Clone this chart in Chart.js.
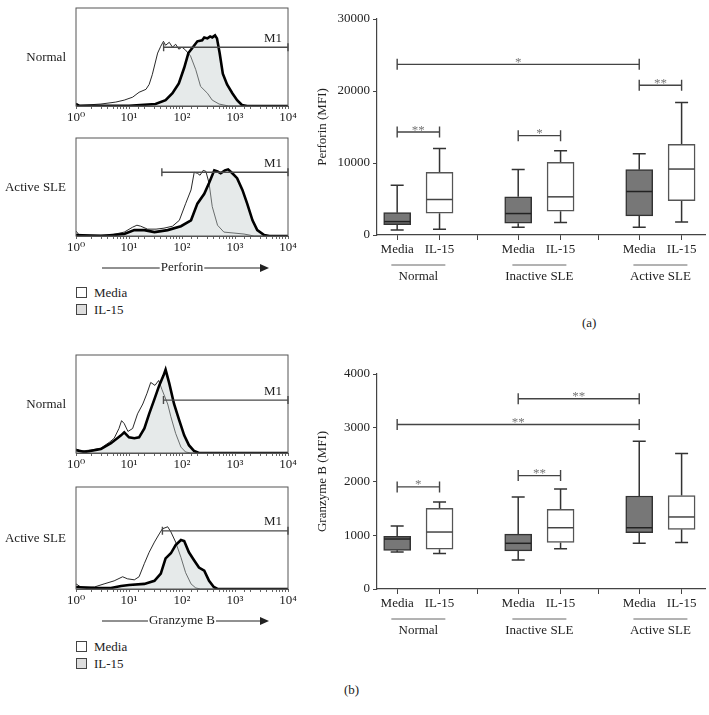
<!DOCTYPE html>
<html>
<head>
<meta charset="utf-8">
<script src="https://cdn.jsdelivr.net/npm/chart.js@4.4.1/dist/chart.umd.min.js"></script>
<style>
  body { margin: 0; background: #fff; }
  #fig { position: relative; width: 709px; height: 715px; font-family: "Liberation Serif", "DejaVu Serif", serif; color: #222; }
  .p { position: absolute; }
  .key { position: absolute; left: 76px; font-size: 13px; line-height: 16px; white-space: nowrap; }
  .key span { display: inline-block; width: 9px; height: 9px; border: 1px solid #444; margin-right: 7px; vertical-align: -1px; }
  .tag { position: absolute; font-size: 13px; }
</style>
</head>
<body>
<div id="fig">
  <canvas class="p" id="perfNormal" width="300" height="125" style="left:0;top:0"></canvas>
  <canvas class="p" id="perfActive" width="300" height="160" style="left:0;top:125px"></canvas>
  <canvas class="p" id="perfBox" width="409" height="300" style="left:300px;top:0"></canvas>
  <div class="key" style="top:285px"><span style="background:#fff"></span>Media</div>
  <div class="key" style="top:302px"><span style="background:#ddd"></span>IL-15</div>
  <div class="tag" style="left:582px;top:315px">(a)</div>

  <canvas class="p" id="granzNormal" width="300" height="130" style="left:0;top:345px"></canvas>
  <canvas class="p" id="granzActive" width="300" height="160" style="left:0;top:475px"></canvas>
  <canvas class="p" id="granzBox" width="409" height="300" style="left:300px;top:350px"></canvas>
  <div class="key" style="top:639px"><span style="background:#fff"></span>Media</div>
  <div class="key" style="top:656px"><span style="background:#ddd"></span>IL-15</div>
  <div class="tag" style="left:344px;top:682px">(b)</div>
</div>
<script>
// histogram tick labels (log axis)
const histTickValues = [1, 10, 100, 1000, 10000];
const histTickLabels = ["10⁰", "10¹", "10²", "10³", "10⁴"];

// flow histograms, [intensity, % of panel height]
const perfNormalMedia = [[1,3],[1.15,0.5],[2.95,2],[5.62,4],[8.13,6],[11.7,9],[15.5,14],[20.9,17],[24,22],[27.5,32],[34.7,54],[39.8,61],[44.7,66],[49,62],[57.5,65],[66.1,60],[75.9,63],[87.1,58],[100,60],[117,57],[145,51],[182,37],[224,20],[302,13],[372,6],[501,2],[759,0],[10000,0]];
const perfNormalIL15 = [[1,2],[1.15,0.3],[10,0.3],[31.6,2],[49,6],[66.1,13],[87.1,23],[110,39],[132,54],[155,59],[195,66],[240,67],[263,70],[302,69],[340,71],[372,70],[420,72],[457,69],[513,54],[589,33],[708,22],[891,13],[1096,6],[1349,1],[1698,0],[10000,0]];
const perfActiveMedia = [[1,5],[1.15,1],[4.57,1],[8.13,4],[11.7,9],[14.1,11],[16.6,10],[22.4,7],[32.4,7],[45.7,8],[66.1,10],[89.1,16],[117,33],[148,47],[170,65],[195,64],[219,62],[251,67],[282,66],[324,54],[372,30],[468,11],[617,4],[955,3],[1479,2],[2291,0],[10000,0]];
const perfActiveIL15 = [[1,1],[2.95,0],[8.13,2],[12.6,6],[19.5,6],[30.2,4],[53.7,6],[95.5,10],[148,16],[195,33],[263,43],[324,54],[407,67],[468,66],[537,64],[646,67],[741,68],[891,64],[1096,59],[1380,47],[1698,33],[2138,16],[2630,6],[3548,1],[4467,0],[10000,0]];
const granzNormalMedia = [[1,4],[1.23,2],[1.91,3],[2.95,5],[4.27,11],[5.25,15],[6.46,25],[7.24,33],[8.13,30],[9.55,22],[11.7,25],[14.5,40],[18.2,50],[21.9,61],[25.7,72],[30.9,69],[36.3,74],[41.7,65],[53.7,50],[61.7,37],[75.9,20],[95.5,6],[117,1],[148,0],[10000,0]];
const granzNormalIL15 = [[1,3],[1.45,1],[2.95,4],[4.57,10],[7.08,18],[8.13,21],[10,16],[12.6,15],[15.5,16],[19.5,25],[24,40],[30.2,55],[37.2,69],[44.7,79],[49,85],[57.5,71],[70.8,50],[89.1,33],[110,18],[135,8],[170,2],[209,0],[10000,0]];
const granzActiveMedia = [[1,5],[1.23,2],[2.24,2],[3.39,5],[5.25,8],[7.59,12],[9.33,10],[12.6,9],[15.5,12],[19.5,25],[24,36],[30.2,46],[37.2,54],[42.7,59],[53.7,61],[61.7,56],[75.9,46],[95.5,31],[117,16],[148,5],[182,1],[224,0],[10000,0]];
const granzActiveIL15 = [[1,2],[1.91,1],[4.57,1],[7.08,3],[10,4],[19.5,5],[30.2,8],[39.8,15],[49,30],[61.7,35],[75.9,43],[95.5,48],[110,47],[135,36],[170,28],[209,21],[263,18],[324,8],[398,2],[468,0],[10000,0]];

// M1 gates: [start intensity, level %]
const perfNormalGate = [45, 60];
const perfActiveGate = [41.7, 65];
const granzNormalGate = [44.7, 54];
const granzActiveGate = [42.7, 57];

// box plots
const groups = ["Normal", "Inactive SLE", "Active SLE"];
const treatments = ["Media", "IL-15"];
// [min, q1, median, q3, max] per group
const perfMedia = [[700,1440,1860,3100,6900],[1070,1630,2980,5300,9100],[1070,2650,6040,9070,11300]];
const perfIL15 = [[790,3020,4930,8700,12000],[1720,3300,5300,10100,11700],[1800,4780,9160,12600,18400]];
const granzMedia = [[690,720,930,980,1170],[540,710,850,1020,1710],[850,1050,1140,1730,2750]];
const granzIL15 = [[660,740,1060,1500,1620],[750,865,1140,1480,1860],[865,1110,1340,1740,2520]];
// significance: [box a, box b, value, label]  (box = group*2 + treatment)
const perfSig = [[0,4,23700,"*"],[4,5,20800,"**"],[0,1,14300,"**"],[2,3,13800,"*"]];
const granzSig = [[2,4,3540,"**"],[0,4,3060,"**"],[0,1,1900,"*"],[2,3,2110,"**"]];

const FONT = '"Liberation Serif", "DejaVu Serif", serif';
const tickFont = { family: FONT, size: 13 };
Chart.defaults.font.family = FONT;
Chart.defaults.font.size = 13;
Chart.defaults.color = "#222";

function histPlugin(row, gate, caption) {
  return {
    id: "histExtras",
    afterDatasetsDraw(chart) {
      const { ctx, chartArea: a, scales: { x, y } } = chart;
      ctx.save();
      ctx.strokeStyle = "#555";
      ctx.lineWidth = 1;
      ctx.strokeRect(a.left, a.top, a.width, a.height);

      // M1 gate
      const gy = y.getPixelForValue(gate[1]);
      const gx0 = x.getPixelForValue(gate[0]);
      const gx1 = x.getPixelForValue(10000);
      ctx.strokeStyle = "#4a4a4a";
      ctx.lineWidth = 1.4;
      ctx.beginPath();
      ctx.moveTo(gx0, gy); ctx.lineTo(gx1, gy);
      ctx.moveTo(gx0, gy - 4); ctx.lineTo(gx0, gy + 4);
      ctx.moveTo(gx1, gy - 4); ctx.lineTo(gx1, gy + 4);
      ctx.stroke();

      ctx.fillStyle = "#222";
      ctx.font = "13px " + FONT;
      ctx.textAlign = "center";
      ctx.textBaseline = "middle";
      ctx.fillText("M1", a.right - 15, gy - 9);

      ctx.textAlign = "right";
      ctx.fillText(row, a.left - 10, (a.top + a.bottom) / 2 + 1);

      if (caption) {
        const cy = a.bottom + 32;
        const cx = (a.left + a.right) / 2;
        ctx.textAlign = "center";
        ctx.fillText(caption, cx, cy);
        const w = ctx.measureText(caption).width;
        ctx.strokeStyle = "#222";
        ctx.lineWidth = 1;
        ctx.beginPath();
        ctx.moveTo(a.left + 26, cy); ctx.lineTo(cx - w / 2 - 1, cy);
        ctx.moveTo(cx + w / 2 + 1, cy); ctx.lineTo(a.left + 184, cy);
        ctx.stroke();
        ctx.fillStyle = "#222";
        ctx.beginPath();
        ctx.moveTo(a.left + 184, cy - 4);
        ctx.lineTo(a.left + 193, cy);
        ctx.lineTo(a.left + 184, cy + 4);
        ctx.closePath();
        ctx.fill();
      }
      ctx.restore();
    }
  };
}

function histChart(id, media, il15, gate, row, caption, pad) {
  return new Chart(document.getElementById(id), {
    type: "line",
    data: {
      datasets: [
        { label: "IL-15", data: il15, borderColor: "#000", borderWidth: 2.6, backgroundColor: "rgba(196,204,204,0.42)", fill: "origin" },
        { label: "Media", data: media, borderColor: "#111", borderWidth: 0.9, fill: false }
      ]
    },
    options: {
      responsive: false,
      animation: false,
      devicePixelRatio: 1,
      layout: { padding: pad },
      elements: { point: { radius: 0 }, line: { tension: 0 } },
      plugins: { legend: { display: false }, tooltip: { enabled: false } },
      scales: {
        x: {
          type: "logarithmic", min: 1, max: 10000,
          afterFit: s => { s.height = 19; },
          grid: { display: true, drawOnChartArea: false, tickLength: 3, color: "#666" },
          border: { color: "#555" },
          ticks: {
            autoSkip: false, maxRotation: 0, padding: 1, color: "#222", font: tickFont,
            callback: v => { const i = histTickValues.indexOf(v); return i < 0 ? "" : histTickLabels[i]; }
          }
        },
        y: { display: false, min: 0, max: 100 }
      }
    },
    plugins: [histPlugin(row, gate, caption)]
  });
}

histChart("perfNormal", perfNormalMedia, perfNormalIL15, perfNormalGate, "Normal", null, { left: 76, right: 12, top: 8, bottom: 0 });
histChart("perfActive", perfActiveMedia, perfActiveIL15, perfActiveGate, "Active SLE", "Perforin", { left: 76, right: 12, top: 13, bottom: 30 });
histChart("granzNormal", granzNormalMedia, granzNormalIL15, granzNormalGate, "Normal", null, { left: 76, right: 12, top: 10, bottom: 3 });
histChart("granzActive", granzActiveMedia, granzActiveIL15, granzActiveGate, "Active SLE", "Granzyme B", { left: 76, right: 12, top: 12, bottom: 27 });

const pos = (g, t) => g * 3 + 0.5 + t * 1.05;
const boxPositions = [];
groups.forEach((_, g) => treatments.forEach((_, t) => boxPositions.push(pos(g, t))));
const tickPositions = boxPositions.concat([2.5, 5.5]).sort((a, b) => a - b);

function boxPlugin(media, il15, sig) {
  const stats = [];
  groups.forEach((_, g) => { stats.push(media[g]); stats.push(il15[g]); });
  return {
    id: "boxExtras",
    beforeDatasetsDraw(chart) {
      const { ctx, scales: { x, y } } = chart;
      ctx.save();
      ctx.strokeStyle = "#333";
      ctx.lineWidth = 1.5;
      stats.forEach((s, i) => {
        const px = x.getPixelForValue(boxPositions[i]);
        ctx.beginPath();
        ctx.moveTo(px, y.getPixelForValue(s[0])); ctx.lineTo(px, y.getPixelForValue(s[1]));
        ctx.moveTo(px, y.getPixelForValue(s[3])); ctx.lineTo(px, y.getPixelForValue(s[4]));
        ctx.moveTo(px - 6.5, y.getPixelForValue(s[0])); ctx.lineTo(px + 6.5, y.getPixelForValue(s[0]));
        ctx.moveTo(px - 6.5, y.getPixelForValue(s[4])); ctx.lineTo(px + 6.5, y.getPixelForValue(s[4]));
        ctx.stroke();
      });
      ctx.restore();
    },
    afterDatasetsDraw(chart) {
      const { ctx, chartArea: a, scales: { x, y } } = chart;
      ctx.save();
      ctx.lineWidth = 1.5;
      stats.forEach((s, i) => {
        const px = x.getPixelForValue(boxPositions[i]);
        const py = y.getPixelForValue(s[2]);
        ctx.strokeStyle = i % 2 ? "#444" : "#222";
        ctx.beginPath();
        ctx.moveTo(px - 13, py); ctx.lineTo(px + 13, py);
        ctx.stroke();
      });

      ctx.font = "13px " + FONT;
      ctx.textAlign = "center";
      sig.forEach(([b1, b2, v, label]) => {
        const x1 = x.getPixelForValue(boxPositions[b1]);
        const x2 = x.getPixelForValue(boxPositions[b2]);
        const py = y.getPixelForValue(v);
        ctx.strokeStyle = "#444";
        ctx.lineWidth = 1.4;
        ctx.beginPath();
        ctx.moveTo(x1, py); ctx.lineTo(x2, py);
        ctx.moveTo(x1, py - 5.5); ctx.lineTo(x1, py + 5.5);
        ctx.moveTo(x2, py - 5.5); ctx.lineTo(x2, py + 5.5);
        ctx.stroke();
        ctx.fillStyle = "#777";
        ctx.textBaseline = "alphabetic";
        ctx.fillText(label, (x1 + x2) / 2, py + 1.5);
      });

      ctx.fillStyle = "#222";
      ctx.textBaseline = "middle";
      groups.forEach((name, g) => {
        const mid = (x.getPixelForValue(pos(g, 0)) + x.getPixelForValue(pos(g, 1))) / 2;
        ctx.strokeStyle = "#666";
        ctx.lineWidth = 1;
        ctx.beginPath();
        ctx.moveTo(mid - 27, a.bottom + 30); ctx.lineTo(mid + 27, a.bottom + 30);
        ctx.stroke();
        ctx.fillText(name, mid, a.bottom + 42);
      });
      ctx.restore();
    }
  };
}

function boxChart(id, media, il15, sig, yMax, yStep, title, pad) {
  return new Chart(document.getElementById(id), {
    type: "bar",
    data: {
      datasets: [
        { label: treatments[0], data: media.map((s, g) => ({ x: pos(g, 0), y: [s[1], s[3]] })),
          backgroundColor: "#777", borderColor: "#333", borderWidth: 1.5, borderSkipped: false, barThickness: 27, grouped: false },
        { label: treatments[1], data: il15.map((s, g) => ({ x: pos(g, 1), y: [s[1], s[3]] })),
          backgroundColor: "#fff", borderColor: "#555", borderWidth: 1.5, borderSkipped: false, barThickness: 27, grouped: false }
      ]
    },
    options: {
      responsive: false,
      animation: false,
      devicePixelRatio: 1,
      layout: { padding: pad },
      plugins: { legend: { display: false }, tooltip: { enabled: false } },
      scales: {
        x: {
          type: "linear", min: 0, max: 8.13, offset: false,
          afterBuildTicks: s => { s.ticks = tickPositions.map(v => ({ value: v })); },
          afterFit: s => { s.height = 25; },
          grid: { display: true, drawOnChartArea: false, tickLength: 5, color: "#444", offset: false },
          border: { color: "#444", width: 1.2 },
          ticks: {
            autoSkip: false, maxRotation: 0, padding: 2, color: "#222", font: tickFont,
            callback: v => {
              const i = boxPositions.findIndex(p => Math.abs(p - v) < 1e-6);
              return i < 0 ? "" : treatments[i % 2];
            }
          }
        },
        y: {
          min: 0, max: yMax,
          afterFit: s => { s.width = 66; },
          ticks: { stepSize: yStep, padding: 3, color: "#222", font: tickFont, callback: v => String(v) },
          grid: { drawOnChartArea: false, tickLength: 4, color: "#444" },
          border: { color: "#444", width: 1.2 },
          title: { display: true, text: title, color: "#222", font: tickFont }
        }
      }
    },
    plugins: [boxPlugin(media, il15, sig)]
  });
}

boxChart("perfBox", perfMedia, perfIL15, perfSig, 30000, 10000, "Perforin (MFI)", { left: 11, right: 4, top: 19, bottom: 40 });
boxChart("granzBox", granzMedia, granzIL15, granzSig, 4000, 1000, "Granzyme B (MFI)", { left: 11, right: 4, top: 24, bottom: 36 });
</script>
</body>
</html>
